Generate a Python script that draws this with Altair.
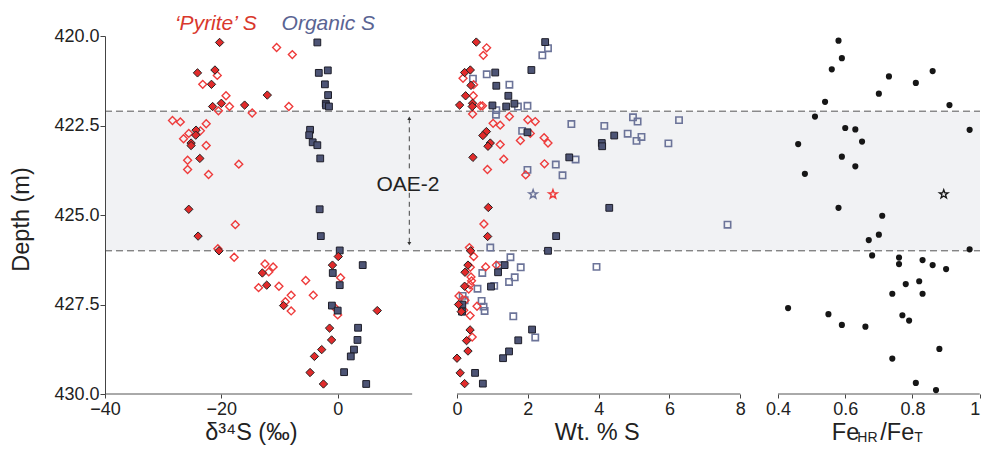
import altair as alt
import pandas as pd

FONT = "Liberation Sans"

# ---------------- data ----------------
# Panel 1: delta34S (permil) vs depth (m)
d34_pyr_fill_val = [-20.3, -24.1, -21.1, -21.7, -12.1, -21.5, -20.0, -16.0, -24.35, -24.4, -25.2, -25.2, -23.7, -25.6,
                    -24.0, -20.4, 0.1, -0.9, -12.95, -12.2, -9.3, 6.8, -1.4, -1.05, -2.75, -4.0, -4.75, -2.45]
d34_pyr_fill_dep = [420.18, 421.03, 420.95, 421.35, 421.65, 421.97, 421.88, 421.93, 422.63, 422.77, 422.99, 423.06, 423.42, 424.84,
                    425.59, 426.0, 426.16, 426.40, 426.62, 426.96, 427.53, 427.67, 428.16, 428.49, 428.76, 428.95, 429.40, 429.72]

d34_pyr_open_val = [-10.5, -7.8, -20.7, -23.2, -19.2, -18.6, -20.5, -14.7, -8.4, -28.4, -27.05, -22.6, -23.6, -25.6, -26.5,
                    -22.6, -25.8, -17.0, -25.8, -22.2, -17.6, -20.6, -17.8, -12.5, -11.1, -11.85, -5.5, 0.5, -13.6, -10.1,
                    -8.0, -4.2, -9.0, -8.0, -0.6, 0.0]
d34_pyr_open_dep = [420.32, 420.52, 421.10, 421.35, 421.67, 421.97, 422.09, 422.15, 421.97, 422.36, 422.40, 422.45, 422.65, 422.72, 422.87,
                    423.06, 423.47, 423.58, 423.73, 423.87, 425.27, 425.94, 426.18, 426.37, 426.45, 426.59, 426.83, 426.75, 427.03, 426.99,
                    427.24, 427.24, 427.42, 427.68, 427.57, 427.79]

d34_org_fill_val = [-3.5, -3.25, -1.7, -2.2, -1.65, -2.05, -2.0, -1.5, -4.75, -4.9, -4.3, -3.5, -3.0, -3.1,
                    -2.9, 0.35, 4.3, -0.85, 0.35, -1.0, 0.0, 3.5, 3.4, 2.8, 2.25, 1.1, 4.9]
d34_org_fill_dep = [420.18, 421.03, 420.96, 421.35, 421.65, 421.89, 421.94, 421.97, 422.62, 422.77, 422.97, 423.05, 423.42, 424.84,
                    425.59, 425.99, 426.40, 426.62, 426.96, 427.53, 427.67, 428.15, 428.49, 428.76, 428.95, 429.39, 429.72]

# Panel 2: Wt. % S vs depth (m)
wt_pyr_fill_val = [0.545, 0.215, 0.376, 0.395, 0.243, 0.074, 0.44, 0.43, 0.83, 0.73, 0.94, 0.875, 0.45, 0.884,
                   0.865, 0.385, 0.31, 0.226, 0.215, 0.045, 0.12, 0.37, 0.27, 0.31, 0.0, 0.09, 0.215]
wt_pyr_fill_dep = [420.17, 421.02, 420.95, 421.38, 421.67, 421.93, 421.88, 421.97, 422.67, 422.78, 422.99, 423.08, 423.39, 424.79,
                   425.60, 426.0, 426.40, 426.60, 426.99, 427.50, 427.70, 428.21, 428.51, 428.80, 429.0, 429.41, 429.71]

wt_pyr_open_val = [0.837, 0.743, 0.17, 0.47, 0.46, 0.66, 0.72, 0.44, 1.48, 1.02, 1.22, 2.0, 2.21, 2.07, 1.79, 1.22, 2.46, 2.57,
                   1.32, 0.86, 2.47, 1.94, 0.76, 0.35, 0.47, 0.376, 0.81, 1.11, 0.395, 0.41, 0.37, 0.33, 0.056, 0.226,
                   0.565, 0.19, 0.37, 0.43]
wt_pyr_open_dep = [420.33, 420.54, 421.18, 421.36, 421.67, 421.95, 421.95, 422.18, 422.25, 422.44, 422.49, 422.34, 422.39, 422.72,
                   422.92, 423.03, 422.84, 422.99, 423.44, 423.73, 423.57, 423.88, 425.25, 425.91, 426.16, 426.46, 426.45, 426.40,
                   426.73, 426.84, 426.95, 427.07, 427.26, 427.38, 427.55, 427.66, 427.81, 428.41]

wt_org_fill_val = [2.49, 1.08, 2.10, 1.11, 1.45, 1.62, 1.0, 1.39, 1.99, 4.44, 4.09, 4.10, 3.17, 4.30,
                   2.80, 2.57, 1.345, 1.16, 0.96, 0.15, 0.14, 2.12, 1.73, 1.47, 1.30, 0.51, 0.73]
wt_org_fill_dep = [420.17, 421.02, 420.95, 421.39, 421.67, 421.89, 421.94, 421.97, 422.69, 422.78, 422.99, 423.08, 423.39, 424.80,
                   425.59, 426.0, 426.40, 426.60, 427.0, 427.50, 427.70, 428.20, 428.50, 428.81, 429.0, 429.41, 429.71]

wt_org_open_val = [2.57, 2.41, 0.84, 0.45, 1.48, 1.72, 1.99, 1.11, 1.10, 3.23, 4.16, 4.97, 5.10, 6.27, 1.84, 4.82, 5.21, 5.07,
                   5.97, 3.35, 2.79, 1.99, 2.98, 7.64, 0.94, 1.51, 1.80, 1.19, 0.715, 1.63, 1.47, 1.05, 0.58, 3.94, 0.16,
                   0.215, 0.695, 0.75, 0.78, 1.59, 2.21]
wt_org_open_dep = [420.34, 420.54, 421.07, 421.19, 421.36, 421.97, 421.95, 422.07, 422.20, 422.46, 422.51, 422.27, 422.39, 422.35,
                   422.65, 422.73, 422.82, 422.93, 423.0, 423.45, 423.59, 423.74, 423.89, 425.27, 425.91, 426.18, 426.46, 426.40,
                   426.62, 426.74, 426.87, 426.98, 427.06, 426.45, 427.26, 427.38, 427.40, 427.56, 427.68, 427.83, 428.42]

wt_star_org_val = [2.15]
wt_star_pyr_val = [2.71]
star_dep = [424.42]

# Panel 3: FeHR/FeT vs depth (m)
fe_val = [0.58, 0.59, 0.56, 0.73, 0.81, 0.86, 0.70, 0.54, 0.91, 0.51, 0.60, 0.63, 0.97, 0.65, 0.46, 0.59, 0.63, 0.48,
          0.58, 0.71, 0.70, 0.67, 0.97, 0.68, 0.76, 0.76, 0.83, 0.86, 0.90, 0.82, 0.78, 0.74, 0.83, 0.43, 0.55, 0.59,
          0.66, 0.77, 0.79, 0.88, 0.74, 0.81, 0.87]
fe_dep = [420.13, 420.62, 420.93, 421.13, 421.31, 420.98, 421.61, 421.84, 421.93, 422.25, 422.57, 422.61, 422.62, 422.95,
          423.02, 423.37, 423.64, 423.85, 424.80, 425.02, 425.55, 425.70, 425.96, 426.13, 426.19, 426.37, 426.26, 426.40,
          426.51, 426.85, 426.93, 427.20, 427.20, 427.60, 427.77, 428.07, 428.12, 427.80, 427.95, 428.74, 429.01, 429.69, 429.89]
fe_star_val = [0.893]

# OAE-2 interval (m)
band_top = [422.1]
band_bottom = [426.0]
arrow_seg_top = [422.3, 424.38]
arrow_seg_bottom = [423.75, 425.8]
arrow_tips = [422.3, 425.8]

# axis extents and ticks
depth_ticks = [420.0, 422.5, 425.0, 427.5, 430.0]
d34_axis = [-40, 12.8]
d34_ticks = [-40, -20, 0]
wt_axis = [0, 8]
wt_ticks = [0, 2, 4, 6, 8]
fe_axis = [0.4, 1.0]
fe_ticks = [0.4, 0.6, 0.8, 1.0]

# ---------------- layout constants ----------------
H = 358
W1, W2, W3 = 339, 310, 226
DOM1 = [-40, 18.273]
DOM2 = [-0.3671, 8.3875]
DOM3 = [0.32862, 1.00084]
TITLE_Y = 45.5

RED = "#e12b2b"
RED_OPEN = "#ee3b3b"
BLUE = "#4d5475"
BLUE_OPEN = "#6c7499"
BAND = "#f1f2f4"
STAR = ("M0,-1L0.235,-0.324L0.951,-0.309L0.380,0.124L0.588,0.809L0,0.4L-0.588,0.809"
        "L-0.380,0.124L-0.951,-0.309L-0.235,-0.324Z")

YSCALE = alt.Scale(domain=[420, 430], reverse=True, nice=False, zero=False)


def pts(vals, deps):
    return pd.DataFrame({"v": vals, "depth": deps})


def yenc(show):
    if show:
        ax = alt.Axis(values=depth_ticks, format=".1f", title="Depth (m)", tickSize=5, labelPadding=1,
                      labelFlush=False, titleX=-76.7, titleY=183, titleAngle=-90, titleBaseline="alphabetic",
                      titleAlign="center", grid=False, zindex=1)
        return alt.Y("depth:Q", scale=YSCALE, axis=ax)
    return alt.Y("depth:Q", scale=YSCALE, axis=None)


def panel(W, dom, xaxis, show_y, point_layers, axis_range, extra=()):
    y = yenc(show_y)
    xe = alt.X("v:Q", scale=alt.Scale(domain=dom, nice=False, zero=False), axis=xaxis)
    band = alt.Chart(pd.DataFrame({"depth": band_top, "depth2": band_bottom})).mark_rect(color=BAND).encode(
        x=alt.value(0), x2=alt.value(W), y=y, y2="depth2")
    dashes = alt.Chart(pd.DataFrame({"depth": band_top + band_bottom})).mark_rule(
        color="#555555", strokeDash=[7, 4], strokeWidth=1).encode(x=alt.value(0), x2=alt.value(W), y=y)
    axline = alt.Chart(pd.DataFrame({"v": [axis_range[0]], "v2": [axis_range[1]]})).mark_rule(
        color="#555555", strokeWidth=1).encode(x=xe, x2="v2", y=alt.value(H))
    layers = [band, dashes, axline]
    for df, props in point_layers:
        layers.append(alt.Chart(df).mark_point(**props).encode(x=xe, y=y))
    layers.extend(extra)
    return alt.layer(*layers).properties(width=W, height=H)


def mk(shape, filled, size, **kw):
    d = dict(shape=shape, filled=filled, size=size, opacity=1)
    d.update(kw)
    return d


# ---------- panel 1 ----------
ax1 = alt.Axis(values=d34_ticks, domain=False, grid=False, tickSize=4, labelPadding=2, labelFlush=False,
               title="δ³⁴S (‰)", titleX=145.8, titleY=TITLE_Y, titleBaseline="alphabetic")
p1_points = [
    (pts(d34_pyr_open_val, d34_pyr_open_dep), mk("diamond", False, 62, color=RED_OPEN, strokeWidth=1.4)),
    (pts(d34_org_fill_val, d34_org_fill_dep), mk("square", True, 46, fill=BLUE, stroke="#1d1d28", strokeWidth=1)),
    (pts(d34_pyr_fill_val, d34_pyr_fill_dep), mk("diamond", True, 70, fill=RED, stroke="#222222", strokeWidth=1)),
]
legend_txt = alt.Chart(pd.DataFrame({"t": ["‘Pyrite’ S"]})).mark_text(
    font=FONT, fontSize=21, fontStyle="italic", color="#d9382c", align="center", baseline="alphabetic").encode(
    text="t:N", x=alt.value(110.8), y=alt.value(-5.7))
legend_txt2 = alt.Chart(pd.DataFrame({"t": ["Organic S"]})).mark_text(
    font=FONT, fontSize=21, fontStyle="italic", color="#5a6493", align="center", baseline="alphabetic").encode(
    text="t:N", x=alt.value(223.3), y=alt.value(-5.7))
oae_txt = alt.Chart(pd.DataFrame({"t": ["OAE-2"]})).mark_text(
    font=FONT, fontSize=21, color="#222222", align="center", baseline="alphabetic").encode(
    text="t:N", x=alt.value(303), y=alt.value(155))
y1 = yenc(True)
arrow_lines = alt.Chart(pd.DataFrame({"depth": arrow_seg_top, "depth2": arrow_seg_bottom})).mark_rule(
    color="#444444", strokeDash=[5, 4], strokeWidth=1).encode(x=alt.value(304.3), y=y1, y2="depth2")
tip_up = alt.Chart(pd.DataFrame({"depth": arrow_tips[:1]})).mark_point(
    shape="triangle-up", filled=True, size=16, color="#333333", opacity=1).encode(x=alt.value(304.3), y=y1)
tip_dn = alt.Chart(pd.DataFrame({"depth": arrow_tips[1:]})).mark_point(
    shape="triangle-down", filled=True, size=16, color="#333333", opacity=1).encode(x=alt.value(304.3), y=y1)
p1 = panel(W1, DOM1, ax1, True, p1_points, d34_axis,
           extra=(arrow_lines, tip_up, tip_dn, oae_txt, legend_txt, legend_txt2))

# ---------- panel 2 ----------
ax2 = alt.Axis(values=wt_ticks, domain=False, grid=False, tickSize=4, labelPadding=2, labelFlush=False,
               title="Wt. % S", titleX=152.8, titleY=TITLE_Y, titleBaseline="alphabetic")
p2_points = [
    (pts(wt_org_open_val, wt_org_open_dep), mk("square", False, 40, color=BLUE_OPEN, strokeWidth=1.6)),
    (pts(wt_pyr_open_val, wt_pyr_open_dep), mk("diamond", False, 62, color=RED_OPEN, strokeWidth=1.4)),
    (pts(wt_org_fill_val, wt_org_fill_dep), mk("square", True, 46, fill=BLUE, stroke="#1d1d28", strokeWidth=1)),
    (pts(wt_pyr_fill_val, wt_pyr_fill_dep), mk("diamond", True, 70, fill=RED, stroke="#222222", strokeWidth=1)),
    (pts(wt_star_org_val, star_dep), mk(STAR, False, 85, color=BLUE_OPEN, strokeWidth=1.4)),
    (pts(wt_star_pyr_val, star_dep), mk(STAR, False, 85, color=RED_OPEN, strokeWidth=1.4)),
]
p2 = panel(W2, DOM2, ax2, False, p2_points, wt_axis)

# ---------- panel 3 ----------
ax3 = alt.Axis(values=fe_ticks, domain=False, grid=False, tickSize=4, labelPadding=2, labelFlush=True, title=None,
               labelExpr="datum.value == 1 ? '1' : format(datum.value, '.1f')")
p3_points = [
    (pts(fe_val, fe_dep), mk("circle", True, 38, color="#161616")),
    (pts(fe_star_val, star_dep), mk(STAR, False, 85, color="#161616", strokeWidth=1.3)),
]
title_text = ["Fe", "HR", "/Fe", "T"]
title_size = [23.5, 14, 23.5, 14]
title_x = [77.8, 103.3, 126.3, 160.3]
title_y = [H + TITLE_Y, H + TITLE_Y + 2, H + TITLE_Y, H + TITLE_Y + 2]
fe_title = []
for txt, fs, xx, yy in zip(title_text, title_size, title_x, title_y):
    fe_title.append(alt.Chart(pd.DataFrame({"t": [txt]})).mark_text(
        font=FONT, fontSize=fs, color="#222222", align="left", baseline="alphabetic").encode(
        text="t:N", x=alt.value(xx), y=alt.value(yy)))
p3 = panel(W3, DOM3, ax3, False, p3_points, fe_axis, extra=tuple(fe_title))

chart = alt.hconcat(p1, p2, p3, spacing=0, bounds="flush").properties(
    padding={"left": 1, "top": 5, "right": 0, "bottom": 0}
).configure_view(strokeWidth=0).configure_axis(
    labelFont=FONT, titleFont=FONT, labelFontSize=18, titleFontSize=23.5, titleFontWeight="normal",
    labelColor="#222222", titleColor="#222222", domainColor="#444444", tickColor="#444444"
)

chart.save("out.html", embed_options={"renderer": "svg", "actions": False})
